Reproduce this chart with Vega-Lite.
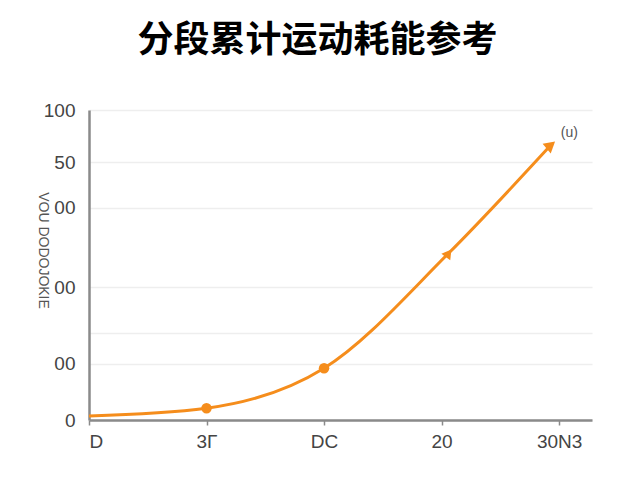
{
  "$schema": "https://vega.github.io/schema/vega-lite/v6.json",
  "width": 503,
  "height": 310,
  "autosize": {"type": "none"},
  "padding": {"left": 89, "top": 110, "right": 48, "bottom": 60},
  "background": "#ffffff",
  "title": {
    "text": "分段累计运动耗能参考",
    "font": "Noto Sans CJK SC",
    "fontSize": 36,
    "fontWeight": "bold",
    "color": "#000000",
    "anchor": "middle",
    "dx": -23,
    "offset": 41
  },
  "config": {
    "view": {"stroke": null},
    "axis": {
      "labelFont": "Liberation Sans",
      "labelColor": "#444444",
      "domainColor": "#8a8a8a",
      "domainWidth": 2.5,
      "tickColor": "#8a8a8a",
      "gridColor": "#eeeeee",
      "gridWidth": 1.5
    }
  },
  "data": {
    "values": [
      {"step": 0, "kcal": 1.3, "mark": "start"},
      {"step": 1, "kcal": 3.8, "mark": "dot"},
      {"step": 2, "kcal": 16.7, "mark": "dot"},
      {"step": 3.06, "kcal": 53.8, "mark": "mid"},
      {"step": 3.93, "kcal": 88.7, "mark": "end", "note": "(u)"}
    ]
  },
  "encoding": {
    "x": {
      "field": "step",
      "type": "quantitative",
      "scale": {"domain": [0, 4.28], "nice": false, "zero": false},
      "axis": {
        "values": [0, 1, 2, 3, 4],
        "labelExpr": "datum.value == 0 ? 'D' : datum.value == 1 ? '3Γ' : datum.value == 2 ? 'DC' : datum.value == 3 ? '20' : '30N3'",
        "labelFontSize": 19,
        "labelPadding": 7,
        "tickSize": 5,
        "tickWidth": 1.5,
        "grid": false,
        "title": null
      }
    },
    "y": {
      "field": "kcal",
      "type": "quantitative",
      "scale": {"domain": [0, 100], "nice": false},
      "axis": {
        "values": [0, 18.1, 28.1, 42.9, 68.4, 83.2, 100],
        "labelExpr": "datum.value == 100 ? '100' : datum.value == 83.2 ? '50' : datum.value == 68.4 ? '00' : datum.value == 42.9 ? '00' : datum.value == 18.1 ? '00' : datum.value == 0 ? '0' : ''",
        "labelFontSize": 19,
        "labelPadding": 14,
        "ticks": false,
        "grid": true,
        "title": "VOU DODOJOKIE",
        "titleFont": "Liberation Sans",
        "titleFontSize": 14,
        "titleFontWeight": "normal",
        "titleColor": "#555555",
        "titleX": -54,
        "titleY": 140,
        "titleAngle": 90
      }
    }
  },
  "layer": [
    {
      "mark": {"type": "line", "color": "#f58d1c", "strokeWidth": 3, "interpolate": "monotone"}
    },
    {
      "transform": [{"filter": "datum.mark == 'dot'"}],
      "mark": {"type": "point", "shape": "circle", "filled": true, "color": "#f58d1c", "opacity": 1, "size": 110}
    },
    {
      "transform": [{"filter": "datum.mark == 'mid'"}],
      "mark": {"type": "point", "shape": "triangle-up", "filled": true, "color": "#f58d1c", "opacity": 1, "size": 120, "angle": 36}
    },
    {
      "transform": [{"filter": "datum.mark == 'end'"}],
      "mark": {"type": "point", "shape": "triangle-up", "filled": true, "color": "#f58d1c", "opacity": 1, "size": 160, "angle": 50}
    },
    {
      "transform": [{"filter": "datum.mark == 'end'"}],
      "mark": {"type": "text", "font": "Liberation Sans", "fontSize": 14, "color": "#555555", "align": "left", "dx": 10, "dy": -12},
      "encoding": {"text": {"field": "note"}}
    }
  ]
}
